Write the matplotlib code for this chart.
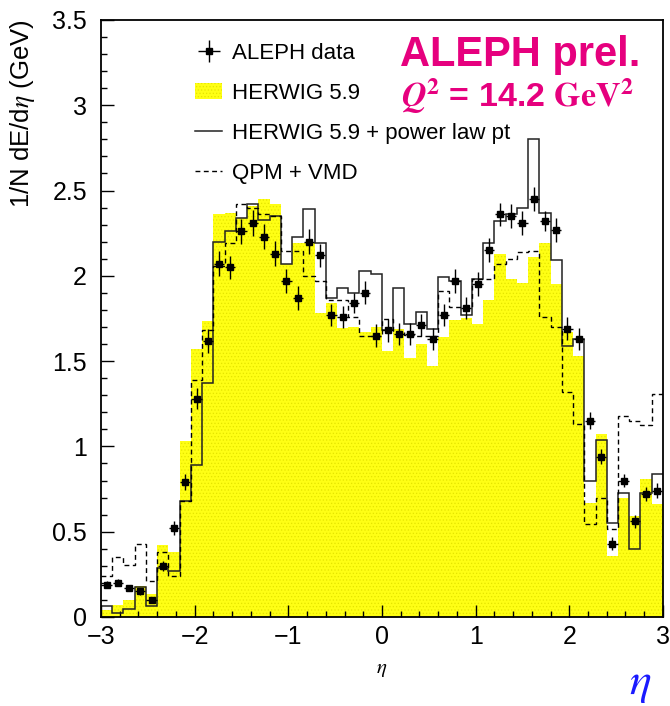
import numpy as np
import matplotlib
matplotlib.use('Agg')
import matplotlib.pyplot as plt
from matplotlib.lines import Line2D
from matplotlib.patches import Patch
from matplotlib.ticker import MultipleLocator, FormatStrFormatter

plt.rcParams.update({
    'font.family': ['Liberation Sans', 'DejaVu Sans'],
    'mathtext.fontset': 'stix',
    'hatch.linewidth': 0.5,
})

# 50 bins in eta from -3 to 3
eta_edges = np.linspace(-3, 3, 51)

aleph_data = [0.19, 0.20, 0.17, 0.15, 0.10, 0.30, 0.52, 0.79, 1.28, 1.62,
              2.07, 2.05, 2.26, 2.31, 2.23, 2.13, 1.97, 1.87, 2.20, 2.12,
              1.77, 1.76, 1.84, 1.90, 1.65, 1.68, 1.66, 1.66, 1.71, 1.63,
              1.77, 1.97, 1.81, 1.95, 2.15, 2.36, 2.35, 2.31, 2.45, 2.32,
              2.27, 1.69, 1.63, 1.15, 0.94, 0.43, 0.80, 0.56, 0.72, 0.74]
aleph_err = [0.02, 0.02, 0.02, 0.02, 0.02, 0.03, 0.04, 0.047, 0.06, 0.07,
             0.073, 0.068, 0.071, 0.075, 0.075, 0.072, 0.07, 0.068, 0.073, 0.068,
             0.063, 0.065, 0.06, 0.068, 0.065, 0.065, 0.065, 0.065, 0.065, 0.065,
             0.065, 0.07, 0.065, 0.07, 0.07, 0.068, 0.07, 0.07, 0.071, 0.06,
             0.07, 0.068, 0.065, 0.05, 0.045, 0.04, 0.04, 0.04, 0.04, 0.045]
herwig = [0.04, 0.07, 0.10, 0.18, 0.135, 0.42, 0.38, 1.03, 1.57, 1.735,
          2.36, 2.37, 2.34, 2.41, 2.45, 2.42, 2.07, 2.19, 2.19, 1.78,
          1.84, 1.695, 1.70, 1.67, 1.70, 1.56, 1.69, 1.52, 1.60, 1.47,
          1.64, 1.74, 1.75, 1.72, 1.86, 2.13, 1.98, 1.96, 2.11, 2.19,
          1.95, 1.67, 1.53, 0.67, 1.07, 0.36, 0.70, 0.59, 0.81, 0.66]
herwig_ptlaw = [0.064, 0.021, 0.045, 0.174, 0.064, 0.29, 0.27, 0.68, 0.89, 1.37,
                2.20, 2.265, 2.34, 2.42, 2.33, 2.35, 2.07, 2.23, 2.39, 2.19,
                1.87, 1.93, 1.90, 2.03, 2.01, 1.68, 1.93, 1.72, 1.79, 1.69,
                1.995, 1.97, 1.77, 1.98, 2.19, 2.32, 2.36, 2.40, 2.80, 2.37,
                2.09, 1.59, 1.63, 0.80, 1.04, 0.55, 0.725, 0.40, 0.725, 0.84]
qpm_vmd = [0.24, 0.35, 0.305, 0.43, 0.21, 0.38, 0.24, 0.68, 1.39, 1.68,
           2.06, 2.19, 2.42, 2.40, 2.36, 2.35, 2.145, 2.145, 2.00, 1.97,
           1.86, 1.86, 1.76, 1.65, 1.65, 1.745, 1.67, 1.655, 1.645, 1.645,
           1.91, 1.82, 1.82, 1.98, 1.98, 2.07, 2.10, 2.14, 2.145, 1.76,
           1.70, 1.32, 1.13, 0.545, 0.70, 0.515, 1.18, 1.15, 1.125, 1.31]

centers = 0.5 * (eta_edges[:-1] + eta_edges[1:])
magenta = '#e6007e'
yellow = '#ffff14'

fig = plt.figure(figsize=(6.7, 7.06), dpi=100)
ax = fig.add_axes([0.1507, 0.1261, 0.8388, 0.8456])

ax.stairs(herwig, eta_edges, fill=True, facecolor=yellow, edgecolor='#e4e400',
          hatch='.....', linewidth=0, zorder=1)
ax.stairs(herwig_ptlaw, eta_edges, baseline=None, color='#222222', lw=1.1, zorder=2)
ax.stairs(qpm_vmd, eta_edges, baseline=None, color='black', lw=1.0,
          linestyle=(0, (3.5, 2.5)), zorder=2)
eb = ax.errorbar(centers, aleph_data, xerr=0.055, yerr=aleph_err, fmt='s',
                 color='black', ms=4.0, elinewidth=1.0, capsize=0, zorder=3)

ax.set_xlim(-3, 3)
ax.set_ylim(0, 3.5)
ax.xaxis.set_major_locator(MultipleLocator(1))
ax.xaxis.set_minor_locator(MultipleLocator(0.2))
ax.yaxis.set_major_locator(MultipleLocator(0.5))
ax.yaxis.set_minor_locator(MultipleLocator(0.1))
ax.yaxis.set_major_formatter(FormatStrFormatter('%g'))
ax.tick_params(which='both', direction='in', top=False, right=False,
               labelsize=18, width=1.0)
ax.tick_params(which='major', length=9)
ax.tick_params(which='minor', length=4.5)
ax.tick_params(axis='y', which='major', pad=10)
ax.tick_params(axis='x', which='major', pad=6)
for s in ax.spines.values():
    s.set_linewidth(1.3)

ax.set_xlabel(r'$\eta$', fontsize=15, labelpad=8)
fig.text(0.033, 0.972, r'1/N dE/d$\eta$ (GeV)', rotation=90, ha='center',
         va='top', fontsize=18.5)

handles = [eb,
           Patch(facecolor=yellow, edgecolor='#e4e400', hatch='.....', linewidth=0),
           Line2D([], [], color='#222222', lw=1.1),
           Line2D([], [], color='black', lw=1.0, linestyle=(0, (3.5, 2.5)))]
labels = ['ALEPH data', 'HERWIG 5.9', 'HERWIG 5.9 + power law pt', 'QPM + VMD']
ax.legend(handles, labels, loc='upper left', bbox_to_anchor=(0.168, 0.962),
          frameon=False, fontsize=16, handlelength=1.2, handletextpad=0.45,
          labelspacing=0.86, borderaxespad=0, borderpad=0)

fig.text(0.597, 0.922, 'ALEPH prel.', color=magenta, fontsize=30,
         fontweight='bold', ha='left', va='center')
fig.text(0.598, 0.849, r'$\mathbfit{Q}^{\mathbf{2}}$ = 14.2 $\mathbf{GeV}^{\mathbf{2}}$',
         color=magenta, fontsize=24.5, fontweight='bold', ha='left', va='baseline')
fig.text(0.955, 0.032, r'$\eta$', color='#1a1aff', fontsize=33,
         ha='center', va='center')

plt.savefig('out.png', dpi=100)
plt.close()
